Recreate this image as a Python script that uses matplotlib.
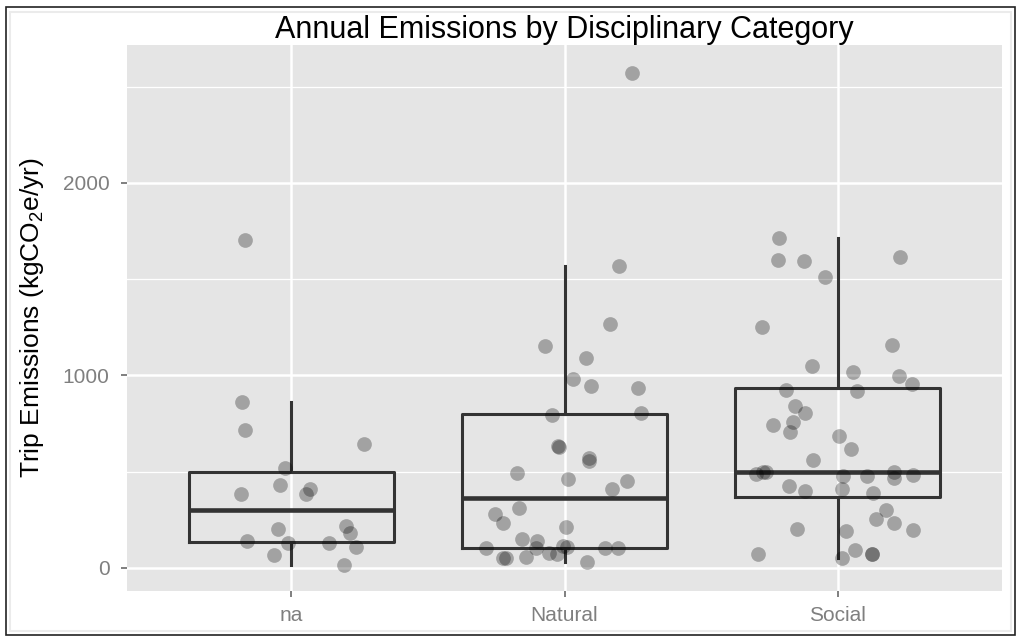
import matplotlib
matplotlib.use("Agg")
import matplotlib.pyplot as plt
from matplotlib.patches import Rectangle
import numpy as np

plt.rcParams['font.family'] = ['Liberation Sans', 'DejaVu Sans']
plt.rcParams['mathtext.default'] = 'regular'

categories = ["na", "Natural", "Social"]

na_values = [1704, 864, 715, 646, 518, 430, 384, 409, 384, 203, 218, 180,
             142, 131, 128, 111, 66, 14]
na_jitter = [-0.167, -0.181, -0.167, 0.266, -0.024, -0.041, -0.182, 0.068, 0.054,
             -0.047, 0.200, 0.215, -0.161, -0.011, 0.138, 0.238, -0.061, 0.192]

natural_values = [2571, 1567, 1266, 1152, 1093, 982, 945, 935, 805, 797, 636, 626,
                  571, 554, 495, 464, 452, 412, 312, 281, 232, 213, 152, 139,
                  106, 106, 113, 109, 106, 104, 52, 52, 56, 80, 73, 33]
natural_jitter = [0.248, 0.201, 0.167, -0.073, 0.080, 0.030, 0.096, 0.269, 0.280,
                  -0.047, -0.022, -0.020, 0.090, 0.090, -0.175, 0.014, 0.229, 0.174,
                  -0.168, -0.254, -0.225, 0.005, -0.156, -0.100, -0.106, -0.286,
                  -0.004, 0.008, 0.149, 0.196, -0.225, -0.215, -0.140, -0.055,
                  -0.028, 0.084]

social_values = [1712, 1617, 1602, 1597, 1510, 1254, 1158, 1051, 1020, 996, 956,
                 925, 921, 843, 803, 745, 760, 705, 686, 618, 559, 488, 497, 500,
                 480, 480, 497, 469, 483, 428, 397, 410, 391, 301, 256, 235, 201,
                 196, 191, 94, 72, 70, 71, 54]
social_jitter = [-0.216, 0.226, -0.219, -0.123, -0.046, -0.277, 0.198, -0.096,
                 0.056, 0.222, 0.271, -0.189, 0.070, -0.156, -0.119, -0.236,
                 -0.165, -0.175, 0.004, 0.046, -0.090, -0.299, -0.273, -0.263,
                 0.019, 0.105, 0.205, 0.205, 0.275, -0.180, -0.122, 0.014, 0.129,
                 0.174, 0.141, 0.204, -0.150, 0.275, 0.029, 0.061, 0.123, 0.126,
                 -0.291, 0.015]

y_major = [0, 1000, 2000]
y_minor = [500, 1500, 2500]

all_values = [na_values, natural_values, social_values]
all_jitter = [na_jitter, natural_jitter, social_jitter]

fig = plt.figure(figsize=(10.24, 6.44), dpi=100)
ax = fig.add_axes([127/1024, 1 - 591/644, 875/1024, 546/644])
ax.set_facecolor('#e5e5e5')

positions = np.arange(1, len(categories) + 1)
line_col = '#333333'
ax.boxplot(all_values, positions=positions, widths=0.75, showfliers=False,
           whis=1.5, showcaps=False,
           boxprops=dict(color=line_col, linewidth=2.2),
           whiskerprops=dict(color=line_col, linewidth=2.2),
           medianprops=dict(color=line_col, linewidth=3.3),
           zorder=3)

for pos, vals, jit in zip(positions, all_values, all_jitter):
    xs = pos + np.array(jit)
    ax.scatter(xs, vals, s=112, color='black', alpha=0.29, linewidths=0, zorder=4)

ax.set_xlim(0.4, 3.6)
ax.set_ylim(-120, 2717)
ax.set_xticks(positions)
ax.set_xticklabels(categories)
ax.set_yticks(y_major)
ax.set_yticks(y_minor, minor=True)
ax.grid(which='major', color='white', linewidth=1.8, zorder=0)
ax.grid(which='minor', axis='y', color='white', linewidth=0.9, zorder=0)
ax.set_axisbelow(True)
for s in ax.spines.values():
    s.set_visible(False)
ax.tick_params(axis='both', which='major', length=4.5, width=1.4, color='#7f7f7f',
               labelcolor='#7f7f7f', labelsize=15)
ax.tick_params(axis='x', which='major', pad=6.5)
ax.tick_params(axis='y', which='major', pad=8)
ax.tick_params(axis='y', which='minor', length=0)

ax.set_title('Annual Emissions by Disciplinary Category', fontsize=22, pad=4)
ax.set_ylabel('Trip Emissions (kgCO$_2$e/yr)', fontsize=19)
ax.yaxis.set_label_coords(-0.092, 0.5)

# outer borders
fig.patches.append(Rectangle((10/1024, 1 - 631/644), 1001/1024, 619/644,
                             transform=fig.transFigure, fill=False,
                             edgecolor='#ebebeb', linewidth=1.5))
fig.patches.append(Rectangle((6/1024, 1 - 635/644), 1009/1024, 628/644,
                             transform=fig.transFigure, fill=False,
                             edgecolor='#222222', linewidth=1.2))

fig.savefig('out.png', dpi=100)
